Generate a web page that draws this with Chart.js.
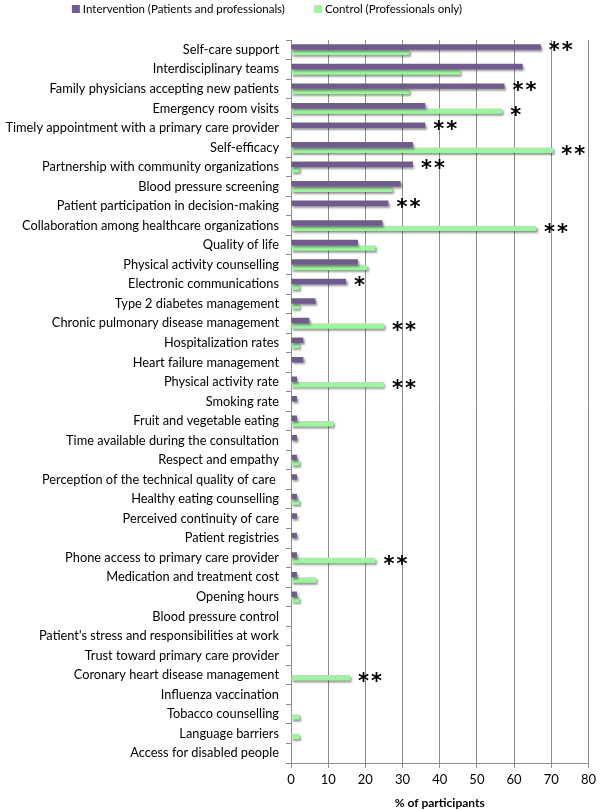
<!DOCTYPE html>
<html>
<head>
<meta charset="utf-8">
<script src="https://cdn.jsdelivr.net/npm/chart.js@4.4.1/dist/chart.umd.min.js"></script>
<style>
    html, body { margin: 0; padding: 0; background: #ffffff; }
    canvas { display: block; }
</style>
</head>
<body>
<canvas id="grafico" width="600" height="810"></canvas>
<script>
const categorias = [
    "Self-care support",
    "Interdisciplinary teams",
    "Family physicians accepting new patients",
    "Emergency room visits",
    "Timely appointment with a primary care provider",
    "Self-efficacy",
    "Partnership with community organizations",
    "Blood pressure screening",
    "Patient participation in decision-making",
    "Collaboration among healthcare organizations",
    "Quality of life",
    "Physical activity counselling",
    "Electronic communications",
    "Type 2 diabetes management",
    "Chronic pulmonary disease management",
    "Hospitalization rates",
    "Heart failure management",
    "Physical activity rate",
    "Smoking rate",
    "Fruit and vegetable eating",
    "Time available during the consultation",
    "Respect and empathy",
    "Perception of the technical quality of care ",
    "Healthy eating counselling",
    "Perceived continuity of care",
    "Patient registries",
    "Phone access to primary care provider",
    "Medication and treatment cost",
    "Opening hours",
    "Blood pressure control",
    "Patient's stress and responsibilities at work",
    "Trust toward primary care provider",
    "Coronary heart disease management",
    "Influenza vaccination",
    "Tobacco counselling",
    "Language barriers",
    "Access for disabled people"
];

const intervencao = [
    67.2, 62.3, 57.4, 36.1, 36.1, 32.8, 32.8, 29.5, 26.2, 24.6,
    18.0, 18.0, 14.8, 6.6, 4.9, 3.3, 3.3, 1.6, 1.6, 1.6,
    1.6, 1.6, 1.6, 1.6, 1.6, 1.6, 1.6, 1.6, 1.6, 0,
    0, 0, 0, 0, 0, 0, 0
];

const controle = [
    31.8, 45.5, 31.8, 56.8, 0, 70.5, 2.3, 27.3, 0, 65.9,
    22.7, 20.5, 2.3, 2.3, 25.0, 2.3, 0, 25.0, 0, 11.4,
    0, 2.3, 0, 2.3, 0, 0, 22.7, 6.8, 2.3, 0,
    0, 0, 15.9, 0, 2.3, 2.3, 0
];

// significance marks and the bar (0 = intervention, 1 = control) they sit next to
const significancia = [
    "**", "", "**", "*", "**", "**", "**", "", "**", "**",
    "", "", "*", "", "**", "", "", "**", "", "",
    "", "", "", "", "", "", "**", "", "", "",
    "", "", "**", "", "", "", ""
];
const serieMarcada = [
    0, 0, 0, 1, 0, 1, 0, 0, 0, 1,
    0, 0, 0, 0, 1, 0, 0, 1, 0, 0,
    0, 0, 0, 0, 0, 0, 1, 0, 0, 0,
    0, 0, 1, 0, 0, 0, 0
];

const nomesSeries = ["Intervention (Patients and professionals)", "Control (Professionals only)"];
const coresSeries = ["#6F5B8E", "#A0F3A0"];

const fonte = "Lato";
const corGrade = "#8C8C8C";

const sombraBarras = {
    id: "sombraBarras",
    beforeDatasetsDraw(chart) {
        const ctx = chart.ctx;
        ctx.save();
        ctx.shadowColor = "rgba(0, 0, 0, 0.4)";
        ctx.shadowOffsetX = 1.5;
        ctx.shadowOffsetY = 2;
        ctx.shadowBlur = 2;
    },
    afterDatasetsDraw(chart) {
        chart.ctx.restore();
    }
};

const asteriscos = {
    id: "asteriscos",
    afterDatasetsDraw(chart) {
        const ctx = chart.ctx;
        ctx.save();
        ctx.fillStyle = "#000000";
        ctx.font = "bold 21px 'DejaVu Sans'";
        ctx.textAlign = "left";
        ctx.textBaseline = "middle";
        significancia.forEach((marca, i) => {
            if (!marca) {
                return;
            }
            const barra = chart.getDatasetMeta(serieMarcada[i]).data[i];
            let x = barra.x + 8;
            for (let k = 0; k < marca.length; k++) {
                ctx.fillText("*", x, barra.y + 5);
                x += 13;
            }
        });
        ctx.restore();
    }
};

const legenda = {
    id: "legendaManual",
    afterDraw(chart) {
        const ctx = chart.ctx;
        ctx.save();
        ctx.font = "11.5px " + fonte;
        ctx.textBaseline = "middle";
        ctx.textAlign = "left";
        const caixa = 8;
        const espaco = 3;
        const entreItens = 29;
        let total = 0;
        chart.data.datasets.forEach((ds, i) => {
            total += caixa + espaco + ctx.measureText(ds.label).width;
            if (i > 0) {
                total += entreItens;
            }
        });
        let x = 267 - total / 2;
        const y = 9;
        chart.data.datasets.forEach((ds) => {
            ctx.fillStyle = ds.backgroundColor;
            ctx.fillRect(x, y - caixa / 2, caixa, caixa);
            x += caixa + espaco;
            ctx.fillStyle = "#000000";
            ctx.fillText(ds.label, x, y);
            x += ctx.measureText(ds.label).width + entreItens;
        });
        ctx.restore();
    }
};

const ctx = document.getElementById("grafico").getContext("2d");

const grafico = new Chart(ctx, {
    type: "bar",
    data: {
        labels: categorias,
        datasets: [
            {
                label: nomesSeries[0],
                data: intervencao,
                backgroundColor: coresSeries[0],
                categoryPercentage: 0.56,
                barPercentage: 1.0
            },
            {
                label: nomesSeries[1],
                data: controle,
                backgroundColor: coresSeries[1],
                categoryPercentage: 0.56,
                barPercentage: 1.0
            }
        ]
    },
    options: {
        indexAxis: "y",
        responsive: false,
        animation: false,
        layout: {
            padding: { top: 40, right: 9, left: 0, bottom: 0 }
        },
        scales: {
            x: {
                min: 0,
                max: 80,
                ticks: {
                    stepSize: 10,
                    color: "#000000",
                    padding: 4,
                    font: { family: fonte, size: 13 }
                },
                grid: {
                    color: corGrade,
                    lineWidth: 1,
                    tickLength: 5
                },
                border: { color: corGrade },
                title: {
                    display: true,
                    text: "% of participants",
                    color: "#000000",
                    padding: { top: 2, bottom: 0 },
                    font: { family: fonte, size: 12, weight: "bold" }
                },
                afterFit(scale) {
                    scale.height = 47;
                }
            },
            y: {
                ticks: {
                    autoSkip: false,
                    color: "#000000",
                    padding: 7,
                    font: { family: fonte, size: 12.8 }
                },
                grid: {
                    drawOnChartArea: false,
                    color: corGrade,
                    tickLength: 5
                },
                border: { color: corGrade },
                afterFit(scale) {
                    scale.width = 291;
                }
            }
        },
        plugins: {
            legend: { display: false },
            tooltip: { enabled: false }
        }
    },
    plugins: [sombraBarras, asteriscos, legenda]
});
</script>
</body>
</html>
